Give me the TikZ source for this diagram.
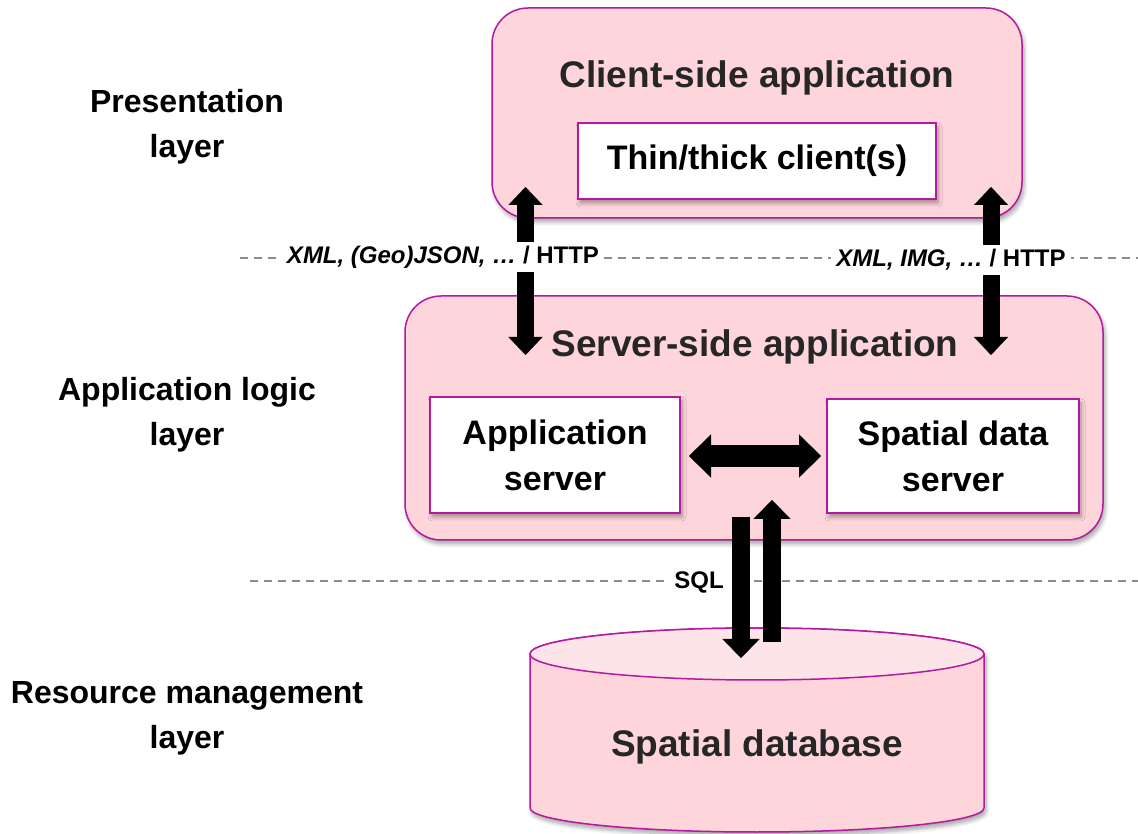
\documentclass[tikz,border=0pt]{standalone}
\usepackage{fontspec}
\setmainfont{Liberation Sans}
\usetikzlibrary{arrows.meta,shadows.blur}

\definecolor{boxfill}{RGB}{253,213,219}
\definecolor{boxline}{RGB}{180,25,160}
\definecolor{lidfill}{RGB}{252,228,232}
\definecolor{titlegray}{RGB}{38,38,38}
\definecolor{sepgray}{RGB}{140,140,140}

\begin{document}
\begin{tikzpicture}[x=1pt,y=1pt,
  softshadow/.style={blur shadow={shadow xshift=2pt, shadow yshift=-4pt,
      shadow blur steps=6, shadow blur radius=4pt, shadow opacity=35}},
  panel/.style={draw=boxline, line width=1.5pt, fill=boxfill,
      rounded corners=36pt, inner sep=0pt, softshadow},
  unit/.style={draw=boxline, line width=1.5pt, fill=white, inner sep=0pt,
      align=center, text=black, softshadow},
  title/.style={text=titlegray, font=\fontsize{37}{44}\selectfont\bfseries},
  unittext/.style={font=\fontsize{34}{46}\selectfont\bfseries},
  layertext/.style={align=center, text=black,
      font=\fontsize{32}{45}\selectfont\bfseries},
  tag/.style={fill=white, inner xsep=5pt, inner ysep=0pt, minimum height=30pt,
      text=black, font=\fontsize{24}{28}\selectfont\bfseries},
  separator/.style={draw=sepgray, line width=1.3pt, dash pattern=on 8pt off 6pt},
  flow/.style={draw=black, fill=black},
  vflow/.style={flow, line width=17pt,
      arrows={Triangle[width=34pt,length=18pt,line width=0.1pt,fill=black,color=black]-Triangle[width=34pt,length=18pt,line width=0.1pt,fill=black,color=black]}},
  hflow/.style={flow, line width=22pt,
      arrows={Triangle[width=43pt,length=22pt,line width=0.1pt,fill=black,color=black]-Triangle[width=43pt,length=22pt,line width=0.1pt,fill=black,color=black]}},
  sqlflow/.style={flow, line width=18pt,
      arrows={-Triangle[width=37pt,length=19pt,line width=0.1pt,fill=black,color=black]}},
]
\useasboundingbox (0,0) rectangle (1138,833);

% layer separators
\draw[separator] (240,575) -- (1138,575);
\draw[separator] (250,252) -- (1138,252);

% layer names
\node[layertext] (lpres) at (187,706) {Presentation\\layer};
\node[layertext] (llogic) at (187,418) {Application logic\\layer};
\node[layertext] (lres) at (187,115) {Resource management\\layer};

% presentation tier
\node[panel, minimum width=530pt, minimum height=210pt] (client) at (757,720) {};
\node[title] (clienttitle) at (757,755) {Client-side application};
\node[unit, unittext, minimum width=358pt, minimum height=76pt] (thin) at (757,672) {Thin/thick client(s)};

% application logic tier
\node[panel, minimum width=698pt, minimum height=244pt] (server) at (754,415) {};
\node[title] (servertitle) at (755,486) {Server-side application};
\node[unit, unittext, minimum width=250pt, minimum height=116pt] (appsrv) at (555,378) {Application\\server};
\node[unit, unittext, minimum width=252pt, minimum height=114pt] (sds) at (953,377) {Spatial data\\server};

% resource tier: the database cylinder
\filldraw[draw=boxline, fill=boxfill, line width=1.5pt, softshadow]
  (530,179) -- (530,25) arc[start angle=180, end angle=360, x radius=227pt, y radius=24pt]
  -- (984,179) arc[start angle=0, end angle=180, x radius=227pt, y radius=26pt] -- cycle;
\filldraw[draw=boxline, fill=lidfill, line width=1.5pt] (757,179) ellipse[x radius=227pt, y radius=26pt];
\node[title, font=\fontsize{37}{44}\selectfont\bfseries] (db) at (757,86) {Spatial database};

% connector end points
\coordinate (lup) at (525.5,646);
\coordinate (ldown) at (525.5,478);
\coordinate (rup) at (991,646);
\coordinate (rdown) at (991,478);
\coordinate (hleft) at (689,377);
\coordinate (hright) at (821,377);
\coordinate (qtop) at (741,316);
\coordinate (qbot) at (741,175);
\coordinate (rbot) at (772,191);
\coordinate (rtop) at (772,333);

% data flows
\draw[vflow] (lup) -- (ldown);
\draw[vflow] (rup) -- (rdown);
\draw[hflow] (hleft) -- (hright);
\draw[sqlflow] (qtop) -- (qbot);
\draw[sqlflow] (rbot) -- (rtop);

% protocol labels
\node[tag] (proto1) at (443,576) {\itshape XML, (Geo)JSON, … \upshape/ HTTP};
\node[tag] (proto2) at (951,573) {\itshape XML, IMG, … \upshape/ HTTP};
\node[tag, inner xsep=8pt] (sql) at (699,251) {SQL};
\end{tikzpicture}
\end{document}
